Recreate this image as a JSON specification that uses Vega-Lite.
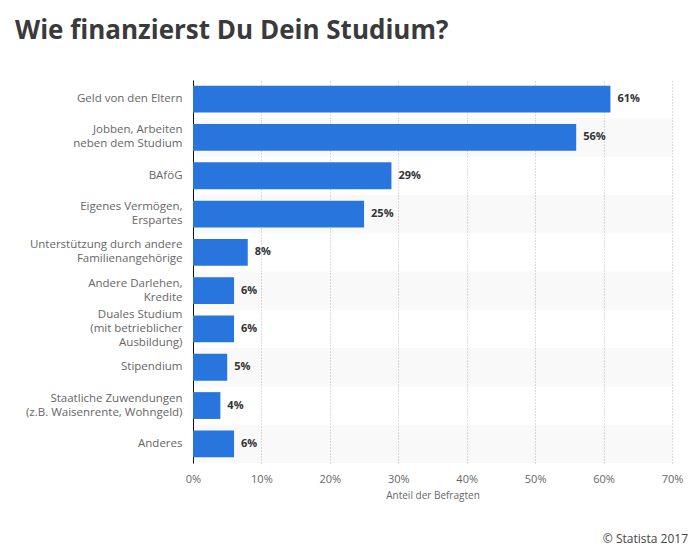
{
  "$schema": "https://vega.github.io/schema/vega-lite/v6.json",
  "padding": {"left": 15, "top": 18, "right": 8, "bottom": 4},
  "background": "white",
  "title": {
    "text": "© Statista 2017",
    "orient": "bottom",
    "anchor": "end",
    "frame": "group",
    "dx": 16,
    "offset": 34,
    "font": "Open Sans",
    "fontSize": 12,
    "fontWeight": "normal",
    "color": "#444"
  },
  "vconcat": [
    {
      "title": {
        "text": "Wie finanzierst Du Dein Studium?",
        "anchor": "start",
        "frame": "group",
        "dx": -178,
        "offset": 36,
        "font": "Open Sans",
        "fontSize": 26,
        "fontWeight": "bold",
        "color": "#3a3a3a"
      },
      "width": 479,
      "height": 383,
      "data": {
        "values": [
          {"label": "Geld von den Eltern", "value": 0.61},
          {"label": "Jobben, Arbeiten|neben dem Studium", "value": 0.56},
          {"label": "BAföG", "value": 0.29},
          {"label": "Eigenes Vermögen,|Erspartes", "value": 0.25},
          {"label": "Unterstützung durch andere|Familienangehörige", "value": 0.08},
          {"label": "Andere Darlehen,|Kredite", "value": 0.06},
          {"label": "Duales Studium|(mit betrieblicher|Ausbildung)", "value": 0.06},
          {"label": "Stipendium", "value": 0.05},
          {"label": "Staatliche Zuwendungen|(z.B. Waisenrente, Wohngeld)", "value": 0.04},
          {"label": "Anderes", "value": 0.06}
        ]
      },
      "transform": [
        {"window": [{"op": "row_number", "as": "idx"}]}
      ],
      "encoding": {
        "y": {
          "field": "label",
          "type": "nominal",
          "sort": null,
          "title": null,
          "scale": {"paddingInner": 0, "paddingOuter": 0},
          "axis": {
            "labelExpr": "split(datum.label, '|')",
            "labelFont": "Open Sans",
            "labelFontSize": 11.5,
            "labelColor": "#666",
            "labelLineHeight": 14,
            "labelPadding": 11,
            "labelOffset": {
              "condition": [
                {"test": "length(split(datum.value, '|')) == 3", "value": -14},
                {"test": "length(split(datum.value, '|')) == 2", "value": -7}
              ],
              "value": 0
            },
            "ticks": false,
            "domain": true,
            "domainColor": "#111",
            "domainWidth": 1,
            "grid": false
          }
        }
      },
      "layer": [
        {
          "mark": {"type": "bar", "color": "#000"},
          "encoding": {
            "x": {
              "datum": 0,
              "type": "quantitative",
              "scale": {"domain": [0, 0.7], "nice": false},
              "title": "Anteil der Befragten",
              "axis": {
                "format": ".0%",
                "values": [0, 0.1, 0.2, 0.3, 0.4, 0.5, 0.6, 0.7],
                "labelFlush": false,
                "labelFont": "Open Sans",
                "labelFontSize": 11,
                "labelColor": "#666",
                "labelPadding": 10,
                "titleFont": "Open Sans",
                "titleFontSize": 10,
                "titleFontWeight": "normal",
                "titleColor": "#666",
                "titlePadding": 6,
                "ticks": false,
                "domain": false,
                "grid": true,
                "gridColor": "#bbb",
                "gridDash": [1, 2],
                "gridWidth": 1
              }
            },
            "x2": {"datum": 0.7},
            "opacity": {
              "condition": {"test": "datum.idx % 2 == 0", "value": 0.025},
              "value": 0
            }
          }
        },
        {
          "mark": {"type": "bar", "color": "#2876dd", "height": {"band": 0.7}},
          "encoding": {
            "x": {"field": "value", "type": "quantitative", "title": "Anteil der Befragten"}
          }
        },
        {
          "mark": {
            "type": "text",
            "align": "left",
            "baseline": "middle",
            "dx": 7,
            "font": "Open Sans",
            "fontSize": 11,
            "fontWeight": "bold",
            "color": "#333"
          },
          "encoding": {
            "x": {"field": "value", "type": "quantitative", "title": "Anteil der Befragten"},
            "text": {"field": "value", "type": "quantitative", "format": ".0%"}
          }
        }
      ]
    }
  ],
  "config": {
    "view": {"stroke": null},
    "concat": {"spacing": 0}
  }
}
